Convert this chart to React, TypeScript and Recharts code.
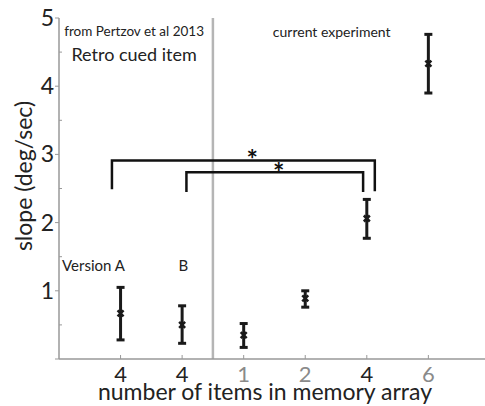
import React from 'react';
import {
  ComposedChart,
  Scatter,
  XAxis,
  YAxis,
  ErrorBar,
  ReferenceLine,
  ReferenceDot,
} from 'recharts';

// ---- data ----
const positions = [0, 1, 2, 3, 4, 5];
const tickLabels = ['4', '4', '1', '2', '4', '6'];
const means = [0.67, 0.5, 0.35, 0.89, 2.06, 4.33];
const lowers = [0.28, 0.23, 0.17, 0.76, 1.77, 3.9];
const uppers = [1.05, 0.78, 0.52, 1.0, 2.34, 4.76];
const yTicks = [0, 0.5, 1, 1.5, 2, 2.5, 3, 3.5, 4, 4.5, 5];

// significance brackets (data units)
const outerBracket = [
  { x: -0.14, y: 2.49 },
  { x: -0.14, y: 2.91 },
  { x: 4.13, y: 2.91 },
  { x: 4.13, y: 2.46 },
];
const innerBracket = [
  { x: 1.07, y: 2.45 },
  { x: 1.07, y: 2.74 },
  { x: 3.94, y: 2.74 },
  { x: 3.94, y: 2.45 },
];
const stars = [
  { x: 2.14, y: 2.93 },
  { x: 2.57, y: 2.73 },
];

// annotations
const annotations = [
  { x: 0.22, y: 4.8, text: 'from Pertzov et al 2013', size: 13.5 },
  { x: 0.22, y: 4.47, text: 'Retro cued item', size: 18 },
  { x: 3.43, y: 4.8, text: 'current experiment', size: 14 },
  { x: -0.44, y: 1.37, text: 'Version A', size: 15 },
  { x: 1.02, y: 1.37, text: 'B', size: 15 },
];

// style (not data)
const tickLabelColors = ['#222', '#222', '#8a8a8a', '#8a8a8a', '#222', '#8a8a8a'];
const FONT = 'Lato';
const AXIS_GRAY = '#999';

const points = positions.map((p, i) => ({
  x: p,
  y: means[i],
  err: [means[i] - lowers[i], uppers[i] - means[i]],
}));

const XTick = (props: any) => {
  const { x, y, payload } = props;
  const idx = positions.indexOf(payload.value);
  return (
    <g>
      <line x1={x} x2={x} y1={y} y2={y - 4} stroke={AXIS_GRAY} strokeWidth={1} />
      <text
        x={x}
        y={y + 23}
        textAnchor="middle"
        fontFamily={FONT}
        fontSize={22}
        fill={tickLabelColors[idx] ?? '#222'}
      >
        {tickLabels[idx]}
      </text>
    </g>
  );
};

const YTick = (props: any) => {
  const { x, y, payload } = props;
  const v = payload.value;
  const major = Number.isInteger(v);
  return (
    <g>
      {major ? (
        <line x1={x - 4} x2={x} y1={y} y2={y} stroke={AXIS_GRAY} strokeWidth={1} />
      ) : (
        <line x1={x} x2={x + 3} y1={y} y2={y} stroke={AXIS_GRAY} strokeWidth={1} />
      )}
      {major && v !== 0 ? (
        <text x={x - 5} y={y + 8} textAnchor="end" fontFamily={FONT} fontSize={23} fill="#222">
          {v}
        </text>
      ) : null}
    </g>
  );
};

const Marker = (props: any) => {
  const { cx, cy } = props;
  if (cx == null || cy == null) return null;
  return (
    <g stroke="#1a1a1a" strokeWidth={2.5}>
      <line x1={cx - 3} y1={cy - 3} x2={cx + 3} y2={cy + 3} />
      <line x1={cx - 3} y1={cy + 3} x2={cx + 3} y2={cy - 3} />
    </g>
  );
};

const NoShape = () => null;

export default function App() {
  return (
    <div style={{ position: 'absolute', left: 0, top: 0 }}>
      <ComposedChart
        width={485}
        height={406}
        margin={{ top: 18, right: 0, bottom: 0, left: 0 }}
      >
        <XAxis
          type="number"
          dataKey="x"
          domain={[-1, 5.92]}
          ticks={positions}
          allowDataOverflow
          interval={0}
          height={47}
          tickSize={0}
          tickMargin={0}
          tickLine={false}
          axisLine={{ stroke: AXIS_GRAY, strokeWidth: 1.5 }}
          tick={<XTick />}
          label={{
            content: () => (
              <text x={265} y={400} textAnchor="middle" fontFamily={FONT} fontSize={23} fill="#222">
                number of items in memory array
              </text>
            ),
          }}
        />
        <YAxis
          type="number"
          dataKey="y"
          domain={[0, 5]}
          ticks={yTicks}
          interval={0}
          width={59}
          tickSize={0}
          tickMargin={0}
          tickLine={false}
          axisLine={{ stroke: AXIS_GRAY, strokeWidth: 1.5 }}
          tick={<YTick />}
          label={{
            content: () => (
              <text
                x={32}
                y={176}
                transform="rotate(-90, 32, 176)"
                textAnchor="middle"
                fontFamily={FONT}
                fontSize={23}
                fill="#222"
              >
                slope (deg/sec)
              </text>
            ),
          }}
        />
        <ReferenceLine x={1.5} stroke="#b5b5b5" strokeWidth={2.5} />
        {annotations.map((a) => (
          <ReferenceDot
            key={a.text}
            x={a.x}
            y={a.y}
            r={0}
            fill="none"
            stroke="none"
            label={{ value: a.text, position: 'center', fontFamily: FONT, fontSize: a.size, fill: '#222' }}
          />
        ))}
        {stars.map((s, i) => (
          <ReferenceDot
            key={'star' + i}
            x={s.x}
            y={s.y}
            r={0}
            fill="none"
            stroke="none"
            label={{ value: '*', position: 'center', fontFamily: FONT, fontSize: 27, fontWeight: 'bold', fill: '#111' }}
          />
        ))}
        <Scatter
          data={outerBracket}
          dataKey="y"
          shape={NoShape}
          line={{ stroke: '#111', strokeWidth: 2.5 }}
          lineType="joint"
          isAnimationActive={false}
        />
        <Scatter
          data={innerBracket}
          dataKey="y"
          shape={NoShape}
          line={{ stroke: '#111', strokeWidth: 2.5 }}
          lineType="joint"
          isAnimationActive={false}
        />
        <Scatter data={points} dataKey="y" shape={<Marker />} isAnimationActive={false}>
          <ErrorBar dataKey="err" direction="y" width={4} stroke="#1a1a1a" strokeWidth={3} isAnimationActive={false} />
        </Scatter>
      </ComposedChart>
    </div>
  );
}
